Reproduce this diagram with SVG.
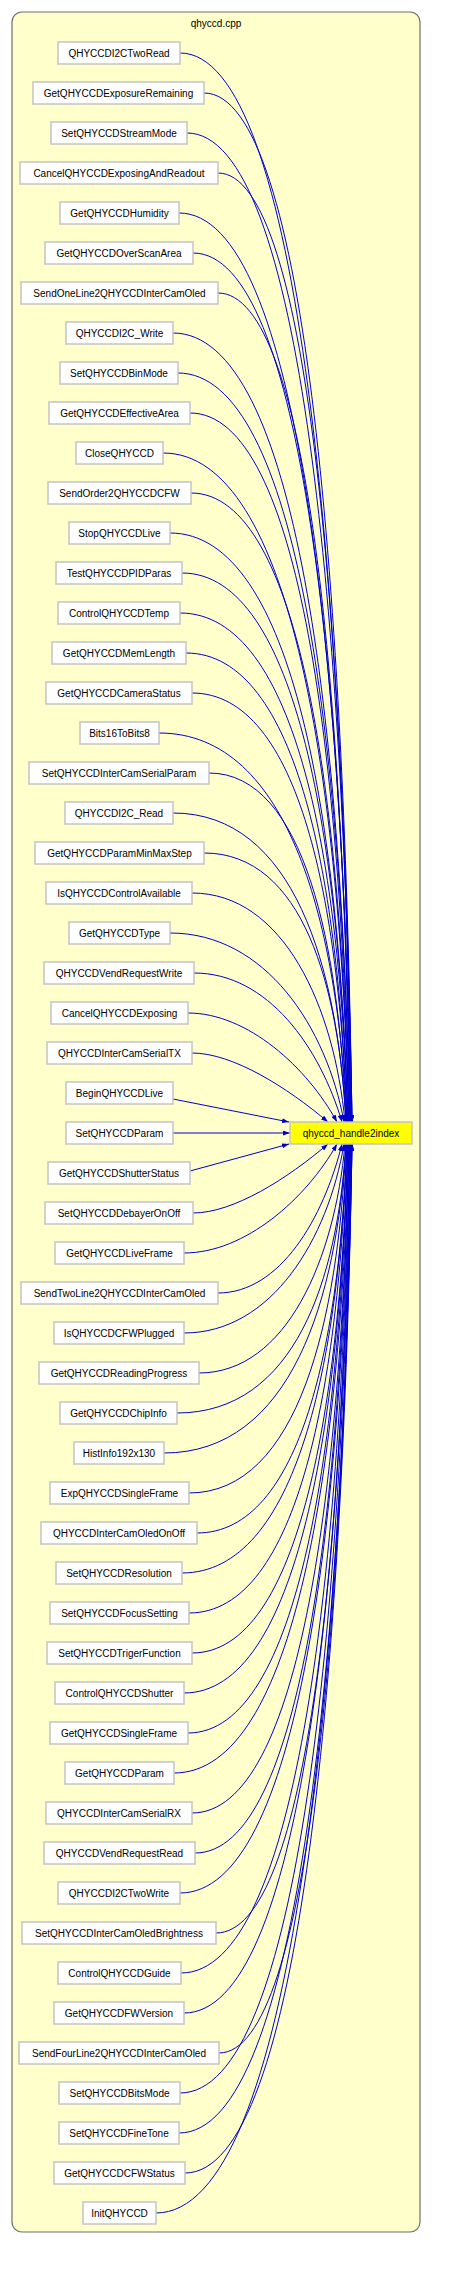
<svg xmlns="http://www.w3.org/2000/svg" width="468" height="2280" viewBox="0 0 468 2280">
<defs>
<style>
.cl{fill:#ffffcc;stroke:#6e6e6e;stroke-width:1.2}
.n rect{fill:#ffffff;stroke:#c4c4c4;stroke-width:1.5}
.tg rect{fill:#ffff00;stroke:#c4c4c4;stroke-width:1.5}
text{font-family:"Liberation Sans",Arial,sans-serif;font-size:10px;fill:#000;text-anchor:middle}
.e path{fill:none;stroke:#0000cd;stroke-width:1;marker-end:url(#ah)}
</style>
<marker id="ah" markerWidth="7" markerHeight="5" refX="7" refY="2.5" orient="auto" markerUnits="userSpaceOnUse"><path d="M0,0 L7,2.5 L0,5 z" fill="#0000cd"/></marker>
</defs>
<rect width="468" height="2280" fill="#ffffff"/>
<g id="cluster">
<rect class="cl" x="12" y="12" width="408" height="2220" rx="10" ry="10"/>
<text x="216" y="27">qhyccd.cpp</text>
</g>
<g class="e" id="edges">
<path d="M180,53 C300.4,53 343.4,587.5 352,1122"/>
<path d="M204,93 C307.6,93 344.6,607.5 352,1122"/>
<path d="M187,133 C302.5,133 343.75,627.5 352,1122"/>
<path d="M218,173 C311.1,173 344.35,647.5 351,1122"/>
<path d="M179,213 C299.4,213 342.4,667.5 351,1122"/>
<path d="M193,253 C303.6,253 343.1,687.5 351,1122"/>
<path d="M218,293 C310.4,293 343.4,707.5 350,1122"/>
<path d="M173,333 C296.9,333 341.15,727.5 350,1122"/>
<path d="M178,373 C298.4,373 341.4,747.5 350,1122"/>
<path d="M190,413 C301.3,413 341.05,767.5 349,1122"/>
<path d="M163,453 C293.2,453 339.7,787.5 349,1122"/>
<path d="M191,493 C301.6,493 341.1,807.5 349,1122"/>
<path d="M170,533 C294.6,533 339.1,827.5 348,1122"/>
<path d="M182,573 C298.2,573 339.7,847.5 348,1122"/>
<path d="M180,613 C297.6,613 339.6,867.5 348,1122"/>
<path d="M186,653 C298.7,653 338.95,887.5 347,1122"/>
<path d="M192,693 C300.5,693 339.25,907.5 347,1122"/>
<path d="M159,733 C290.6,733 337.6,927.5 347,1122"/>
<path d="M209,773 C304.9,773 339.15,947.5 346,1122"/>
<path d="M173,813 C294.1,813 337.35,967.5 346,1122"/>
<path d="M204,853 C303.4,853 338.9,987.5 346,1122"/>
<path d="M192,893 C283.8,893 334.3,1007.5 345,1122"/>
<path d="M170,933 C265.7,933 326.6,1027.5 344,1122"/>
<path d="M194,973 C268,973 319.8,1047.5 342,1122"/>
<path d="M188,1013 C247.6,1013 307.2,1067.5 337,1122"/>
<path d="M192,1053 C232.8,1053 287.2,1087.5 328,1122"/>
<path d="M173,1099 L289,1122"/>
<path d="M173,1133 L290,1133"/>
<path d="M190,1171 L289,1144"/>
<path d="M193,1213 C233.5,1213 287.5,1178.5 328,1144"/>
<path d="M184,1253 C245.2,1253 306.4,1198.5 337,1144"/>
<path d="M218,1293 C280,1293 323.4,1218.5 342,1144"/>
<path d="M184,1333 C272,1333 328,1238.5 344,1144"/>
<path d="M199,1373 C286.6,1373 334.8,1258.5 345,1144"/>
<path d="M177,1413 C295.3,1413 337.55,1278.5 346,1144"/>
<path d="M164,1453 C291.4,1453 336.9,1298.5 346,1144"/>
<path d="M189,1493 C298.9,1493 338.15,1318.5 346,1144"/>
<path d="M197,1533 C302,1533 339.5,1338.5 347,1144"/>
<path d="M182,1573 C297.5,1573 338.75,1358.5 347,1144"/>
<path d="M189,1613 C299.6,1613 339.1,1378.5 347,1144"/>
<path d="M192,1653 C301.2,1653 340.2,1398.5 348,1144"/>
<path d="M184,1693 C298.8,1693 339.8,1418.5 348,1144"/>
<path d="M188,1733 C300,1733 340,1438.5 348,1144"/>
<path d="M174,1773 C296.5,1773 340.25,1458.5 349,1144"/>
<path d="M192,1813 C301.9,1813 341.15,1478.5 349,1144"/>
<path d="M195,1853 C302.8,1853 341.3,1498.5 349,1144"/>
<path d="M180,1893 C299,1893 341.5,1518.5 350,1144"/>
<path d="M216,1933 C309.8,1933 343.3,1538.5 350,1144"/>
<path d="M181,1973 C299.3,1973 341.55,1558.5 350,1144"/>
<path d="M184,2013 C300.9,2013 342.65,1578.5 351,1144"/>
<path d="M219,2053 C311.4,2053 344.4,1598.5 351,1144"/>
<path d="M180,2093 C299.7,2093 342.45,1618.5 351,1144"/>
<path d="M179,2133 C300.1,2133 343.35,1638.5 352,1144"/>
<path d="M185,2173 C301.9,2173 343.65,1658.5 352,1144"/>
<path d="M156,2213 C293.2,2213 342.2,1678.5 352,1144"/>
</g>
<g id="target" class="tg"><rect x="290" y="1122" width="122" height="22"/><text x="351" y="1137">qhyccd_handle2index</text></g>
<g id="n1" class="n"><rect x="58" y="42" width="122" height="22"/><text x="119" y="56.5">QHYCCDI2CTwoRead</text></g>
<g id="n2" class="n"><rect x="33" y="82" width="171" height="22"/><text x="118.5" y="96.5">GetQHYCCDExposureRemaining</text></g>
<g id="n3" class="n"><rect x="51" y="122" width="136" height="22"/><text x="119" y="136.5">SetQHYCCDStreamMode</text></g>
<g id="n4" class="n"><rect x="20" y="162" width="198" height="22"/><text x="119" y="176.5">CancelQHYCCDExposingAndReadout</text></g>
<g id="n5" class="n"><rect x="60" y="202" width="119" height="22"/><text x="119.5" y="216.5">GetQHYCCDHumidity</text></g>
<g id="n6" class="n"><rect x="45" y="242" width="148" height="22"/><text x="119" y="256.5">GetQHYCCDOverScanArea</text></g>
<g id="n7" class="n"><rect x="21" y="282" width="197" height="22"/><text x="119.5" y="296.5">SendOneLine2QHYCCDInterCamOled</text></g>
<g id="n8" class="n"><rect x="66" y="322" width="107" height="22"/><text x="119.5" y="336.5">QHYCCDI2C_Write</text></g>
<g id="n9" class="n"><rect x="60" y="362" width="118" height="22"/><text x="119" y="376.5">SetQHYCCDBinMode</text></g>
<g id="n10" class="n"><rect x="49" y="402" width="141" height="22"/><text x="119.5" y="416.5">GetQHYCCDEffectiveArea</text></g>
<g id="n11" class="n"><rect x="76" y="442" width="87" height="22"/><text x="119.5" y="456.5">CloseQHYCCD</text></g>
<g id="n12" class="n"><rect x="48" y="482" width="143" height="22"/><text x="119.5" y="496.5">SendOrder2QHYCCDCFW</text></g>
<g id="n13" class="n"><rect x="69" y="522" width="101" height="22"/><text x="119.5" y="536.5">StopQHYCCDLive</text></g>
<g id="n14" class="n"><rect x="56" y="562" width="126" height="22"/><text x="119" y="576.5">TestQHYCCDPIDParas</text></g>
<g id="n15" class="n"><rect x="58" y="602" width="122" height="22"/><text x="119" y="616.5">ControlQHYCCDTemp</text></g>
<g id="n16" class="n"><rect x="52" y="642" width="134" height="22"/><text x="119" y="656.5">GetQHYCCDMemLength</text></g>
<g id="n17" class="n"><rect x="46" y="682" width="146" height="22"/><text x="119" y="696.5">GetQHYCCDCameraStatus</text></g>
<g id="n18" class="n"><rect x="80" y="722" width="79" height="22"/><text x="119.5" y="736.5">Bits16ToBits8</text></g>
<g id="n19" class="n"><rect x="29" y="762" width="180" height="22"/><text x="119" y="776.5">SetQHYCCDInterCamSerialParam</text></g>
<g id="n20" class="n"><rect x="65" y="802" width="108" height="22"/><text x="119" y="816.5">QHYCCDI2C_Read</text></g>
<g id="n21" class="n"><rect x="35" y="842" width="169" height="22"/><text x="119.5" y="856.5">GetQHYCCDParamMinMaxStep</text></g>
<g id="n22" class="n"><rect x="46" y="882" width="146" height="22"/><text x="119" y="896.5">IsQHYCCDControlAvailable</text></g>
<g id="n23" class="n"><rect x="69" y="922" width="101" height="22"/><text x="119.5" y="936.5">GetQHYCCDType</text></g>
<g id="n24" class="n"><rect x="44" y="962" width="150" height="22"/><text x="119" y="976.5">QHYCCDVendRequestWrite</text></g>
<g id="n25" class="n"><rect x="51" y="1002" width="137" height="22"/><text x="119.5" y="1016.5">CancelQHYCCDExposing</text></g>
<g id="n26" class="n"><rect x="47" y="1042" width="145" height="22"/><text x="119.5" y="1056.5">QHYCCDInterCamSerialTX</text></g>
<g id="n27" class="n"><rect x="66" y="1082" width="107" height="22"/><text x="119.5" y="1096.5">BeginQHYCCDLive</text></g>
<g id="n28" class="n"><rect x="66" y="1122" width="107" height="22"/><text x="119.5" y="1136.5">SetQHYCCDParam</text></g>
<g id="n29" class="n"><rect x="48" y="1162" width="142" height="22"/><text x="119" y="1176.5">GetQHYCCDShutterStatus</text></g>
<g id="n30" class="n"><rect x="45" y="1202" width="148" height="22"/><text x="119" y="1216.5">SetQHYCCDDebayerOnOff</text></g>
<g id="n31" class="n"><rect x="55" y="1242" width="129" height="22"/><text x="119.5" y="1256.5">GetQHYCCDLiveFrame</text></g>
<g id="n32" class="n"><rect x="21" y="1282" width="197" height="22"/><text x="119.5" y="1296.5">SendTwoLine2QHYCCDInterCamOled</text></g>
<g id="n33" class="n"><rect x="54" y="1322" width="130" height="22"/><text x="119" y="1336.5">IsQHYCCDCFWPlugged</text></g>
<g id="n34" class="n"><rect x="39" y="1362" width="160" height="22"/><text x="119" y="1376.5">GetQHYCCDReadingProgress</text></g>
<g id="n35" class="n"><rect x="60" y="1402" width="117" height="22"/><text x="118.5" y="1416.5">GetQHYCCDChipInfo</text></g>
<g id="n36" class="n"><rect x="74" y="1442" width="90" height="22"/><text x="119" y="1456.5">HistInfo192x130</text></g>
<g id="n37" class="n"><rect x="50" y="1482" width="139" height="22"/><text x="119.5" y="1496.5">ExpQHYCCDSingleFrame</text></g>
<g id="n38" class="n"><rect x="41" y="1522" width="156" height="22"/><text x="119" y="1536.5">QHYCCDInterCamOledOnOff</text></g>
<g id="n39" class="n"><rect x="56" y="1562" width="126" height="22"/><text x="119" y="1576.5">SetQHYCCDResolution</text></g>
<g id="n40" class="n"><rect x="50" y="1602" width="139" height="22"/><text x="119.5" y="1616.5">SetQHYCCDFocusSetting</text></g>
<g id="n41" class="n"><rect x="47" y="1642" width="145" height="22"/><text x="119.5" y="1656.5">SetQHYCCDTrigerFunction</text></g>
<g id="n42" class="n"><rect x="55" y="1682" width="129" height="22"/><text x="119.5" y="1696.5">ControlQHYCCDShutter</text></g>
<g id="n43" class="n"><rect x="50" y="1722" width="138" height="22"/><text x="119" y="1736.5">GetQHYCCDSingleFrame</text></g>
<g id="n44" class="n"><rect x="65" y="1762" width="109" height="22"/><text x="119.5" y="1776.5">GetQHYCCDParam</text></g>
<g id="n45" class="n"><rect x="46" y="1802" width="146" height="22"/><text x="119" y="1816.5">QHYCCDInterCamSerialRX</text></g>
<g id="n46" class="n"><rect x="44" y="1842" width="151" height="22"/><text x="119.5" y="1856.5">QHYCCDVendRequestRead</text></g>
<g id="n47" class="n"><rect x="58" y="1882" width="122" height="22"/><text x="119" y="1896.5">QHYCCDI2CTwoWrite</text></g>
<g id="n48" class="n"><rect x="22" y="1922" width="194" height="22"/><text x="119" y="1936.5">SetQHYCCDInterCamOledBrightness</text></g>
<g id="n49" class="n"><rect x="58" y="1962" width="123" height="22"/><text x="119.5" y="1976.5">ControlQHYCCDGuide</text></g>
<g id="n50" class="n"><rect x="54" y="2002" width="130" height="22"/><text x="119" y="2016.5">GetQHYCCDFWVersion</text></g>
<g id="n51" class="n"><rect x="19" y="2042" width="200" height="22"/><text x="119" y="2056.5">SendFourLine2QHYCCDInterCamOled</text></g>
<g id="n52" class="n"><rect x="59" y="2082" width="121" height="22"/><text x="119.5" y="2096.5">SetQHYCCDBitsMode</text></g>
<g id="n53" class="n"><rect x="59" y="2122" width="120" height="22"/><text x="119" y="2136.5">SetQHYCCDFineTone</text></g>
<g id="n54" class="n"><rect x="54" y="2162" width="131" height="22"/><text x="119.5" y="2176.5">GetQHYCCDCFWStatus</text></g>
<g id="n55" class="n"><rect x="83" y="2202" width="73" height="22"/><text x="119.5" y="2216.5">InitQHYCCD</text></g>
</svg>
